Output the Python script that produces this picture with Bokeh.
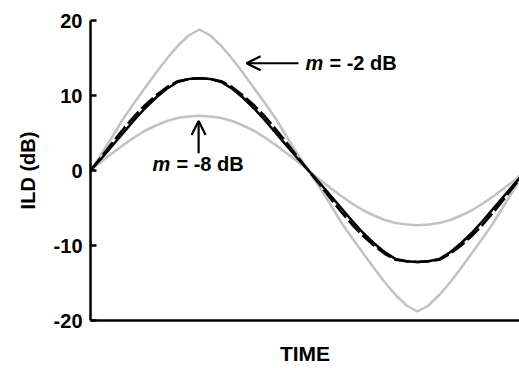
from bokeh.plotting import figure
from bokeh.models import Range1d, Arrow, OpenHead, Label, FixedTicker
from bokeh.embed import file_html
from bokeh.resources import INLINE

# Time axis (arbitrary units, one period ~ 1.0)
time = [0.000, 0.025, 0.050, 0.075, 0.100, 0.125, 0.150, 0.175, 0.200, 0.225,
        0.250, 0.275, 0.300, 0.325, 0.350, 0.375, 0.400, 0.425, 0.450, 0.475,
        0.500, 0.525, 0.550, 0.575, 0.600, 0.625, 0.650, 0.675, 0.700, 0.725,
        0.750, 0.775, 0.800, 0.825, 0.850, 0.875, 0.900, 0.925, 0.950, 0.975,
        0.984]

# m = -2 dB (large grey)
ild_m2 = [0.0, 2.2, 4.5, 6.9, 9.0, 11.0, 13.0, 14.9, 16.6, 18.0,
          18.8, 18.0, 16.6, 14.9, 13.0, 11.0, 9.0, 6.9, 4.5, 2.2,
          0.0, -2.2, -4.5, -6.9, -9.0, -11.0, -13.0, -14.9, -16.6, -18.0,
          -18.8, -18.0, -16.6, -14.9, -13.0, -11.0, -9.0, -6.9, -4.5, -2.2,
          -1.4]

# m = -8 dB (small grey)
ild_m8 = [0.0, 1.2, 2.3, 3.4, 4.4, 5.3, 6.0, 6.6, 7.0, 7.2,
          7.3, 7.2, 7.0, 6.6, 6.0, 5.3, 4.4, 3.4, 2.3, 1.2,
          0.0, -1.2, -2.3, -3.4, -4.4, -5.3, -6.0, -6.6, -7.0, -7.2,
          -7.3, -7.2, -7.0, -6.6, -6.0, -5.3, -4.4, -3.4, -2.3, -1.2,
          -0.7]

# black solid
ild_solid = [0.0, 1.6, 3.3, 5.0, 6.7, 8.3, 9.7, 10.9, 11.8, 12.2,
             12.3, 12.2, 11.8, 10.9, 9.7, 8.3, 6.7, 5.0, 3.3, 1.6,
             0.0, -1.6, -3.3, -5.0, -6.7, -8.3, -9.7, -10.9, -11.8, -12.1,
             -12.2, -12.1, -11.8, -10.9, -9.7, -8.3, -6.7, -5.0, -3.3, -1.6,
             -1.0]

# black dashed
ild_dashed = [0.0, 1.8, 3.7, 5.5, 7.2, 8.7, 10.0, 11.1, 11.9, 12.2,
              12.3, 12.2, 11.9, 11.1, 10.0, 8.7, 7.2, 5.5, 3.7, 1.8,
              0.0, -1.8, -3.7, -5.5, -7.2, -8.7, -10.0, -11.1, -11.9, -12.1,
              -12.2, -12.1, -11.9, -11.1, -10.0, -8.7, -7.2, -5.5, -3.7, -1.8,
              -1.2]

y_ticks = [-20, -10, 0, 10, 20]
y_tick_labels = {-20: "-20", -10: "-10", 0: "0", 10: "10", 20: "20"}

FONT = "Liberation Sans"

p = figure(width=519, height=368, output_backend="svg", toolbar_location=None,
           x_range=Range1d(0, 0.984), y_range=Range1d(-20, 20),
           min_border_left=90, min_border_right=0, min_border_top=20,
           min_border_bottom=48)
p.outline_line_color = None
p.xgrid.visible = False
p.ygrid.visible = False
p.background_fill_color = "white"
p.border_fill_color = "white"

GREY = "#c2c2c2"
p.line(time, ild_m2, line_color=GREY, line_width=2.5)
p.line(time, ild_m8, line_color=GREY, line_width=2.5)
p.line(time, ild_solid, line_color="black", line_width=2.6)
p.line(time, ild_dashed, line_color="black", line_width=2.6, line_dash="16 4")

# Y axis
ya = p.yaxis[0]
ya.ticker = FixedTicker(ticks=y_ticks)
ya.major_label_overrides = y_tick_labels
ya.axis_line_width = 2.5
ya.major_tick_in = 6
ya.major_tick_out = 0
ya.major_tick_line_width = 2.5
ya.minor_tick_line_color = None
ya.major_label_standoff = 8
ya.major_label_text_font = FONT
ya.major_label_text_font_style = "bold"
ya.major_label_text_font_size = "20px"
ya.major_label_text_color = "black"
ya.axis_label = "ILD (dB)"
ya.axis_label_text_font = FONT
ya.axis_label_text_font_style = "bold"
ya.axis_label_text_font_size = "20px"
ya.axis_label_text_color = "black"
ya.axis_label_standoff = 12

# X axis
xa = p.xaxis[0]
xa.ticker = FixedTicker(ticks=[])
xa.axis_line_width = 2.5
xa.major_tick_line_color = None
xa.minor_tick_line_color = None
xa.major_label_text_font_size = "0px"
xa.axis_label = "TIME"
xa.axis_label_text_font = FONT
xa.axis_label_text_font_style = "bold"
xa.axis_label_text_font_size = "21px"
xa.axis_label_text_color = "black"
xa.axis_label_standoff = 21

# Annotations
p.add_layout(Arrow(end=OpenHead(size=14, line_width=2.2, line_color="black"),
                   x_start=0.477, y_start=14.3, x_end=0.358, y_end=14.3,
                   line_width=2.2, line_color="black"))
p.add_layout(Arrow(end=OpenHead(size=14, line_width=2.2, line_color="black"),
                   x_start=0.248, y_start=2.3, x_end=0.248, y_end=6.6,
                   line_width=2.2, line_color="black"))

def mlabel(x, y, rest):
    p.add_layout(Label(x=x, y=y, text="m", text_font=FONT,
                       text_font_style="bold italic", text_font_size="20px",
                       text_baseline="middle", text_color="black"))
    p.add_layout(Label(x=x, y=y, x_offset=24, text=rest, text_font=FONT,
                       text_font_style="bold", text_font_size="20px",
                       text_baseline="middle", text_color="black"))

mlabel(0.493, 14.3, "= -2 dB")
mlabel(0.142, 0.9, "= -8 dB")

open("out.html", "w").write(file_html(p, INLINE))
